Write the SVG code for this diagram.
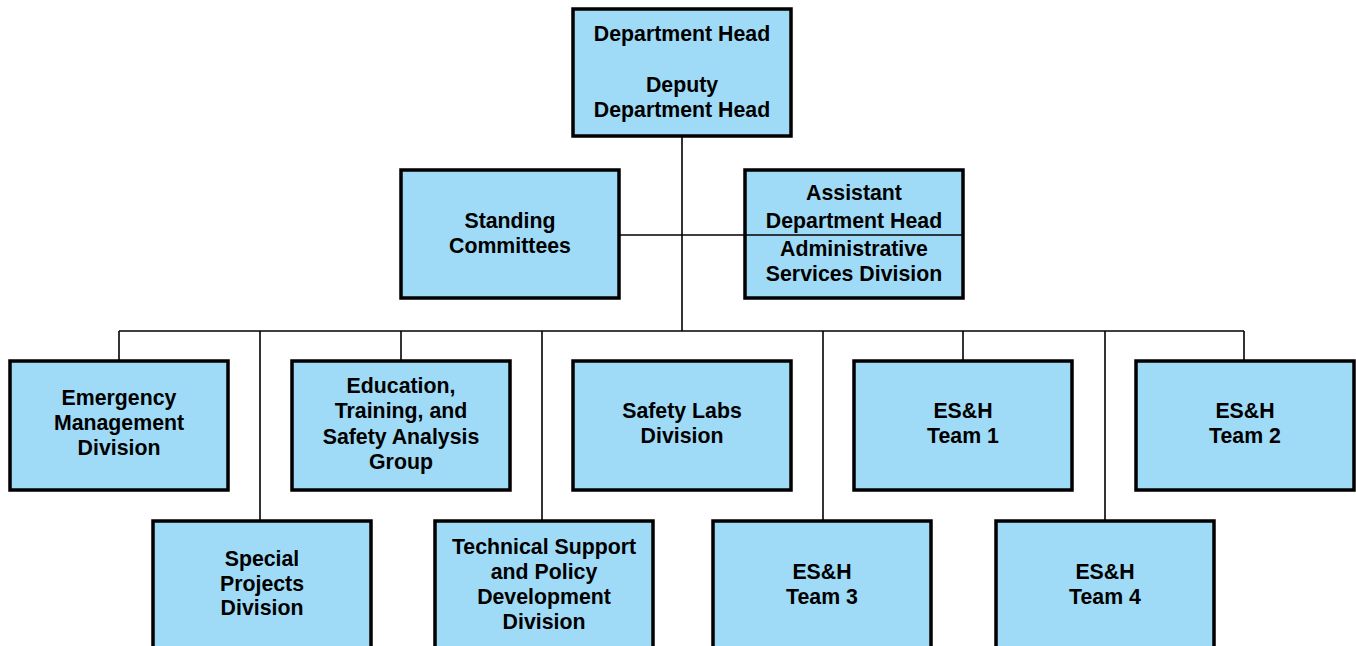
<svg xmlns="http://www.w3.org/2000/svg" width="1356" height="646" viewBox="0 0 1356 646">
<style>
.box{fill:#9fdbf6;stroke:#000;stroke-width:3.5}
.t{font-family:"Liberation Sans",Arial,Helvetica,sans-serif;font-weight:bold;font-size:21.3px;fill:#000;text-anchor:middle}
.c{stroke:#000;stroke-width:1.6;fill:none}
</style>
<rect width="1356" height="646" fill="#fff"/>
<g id="connectors">
<line class="c" x1="682" y1="136" x2="682" y2="331"/>
<line class="c" x1="619" y1="235" x2="745" y2="235"/>
<line class="c" x1="119" y1="331" x2="1244" y2="331"/>
<line class="c" x1="119" y1="331" x2="119" y2="361"/>
<line class="c" x1="401" y1="331" x2="401" y2="361"/>
<line class="c" x1="963" y1="331" x2="963" y2="361"/>
<line class="c" x1="1244" y1="331" x2="1244" y2="361"/>
<line class="c" x1="260" y1="331" x2="260" y2="521"/>
<line class="c" x1="542" y1="331" x2="542" y2="521"/>
<line class="c" x1="823" y1="331" x2="823" y2="521"/>
<line class="c" x1="1105" y1="331" x2="1105" y2="521"/>
</g>
<g id="head">
<rect class="box" x="573" y="9" width="218" height="127"/>
<text class="t" x="682" y="41">Department Head</text>
<text class="t" x="682" y="92">Deputy</text>
<text class="t" x="682" y="117">Department Head</text>
</g>
<g id="standing">
<rect class="box" x="401" y="170" width="218" height="128"/>
<text class="t" x="510" y="228">Standing</text>
<text class="t" x="510" y="253">Committees</text>
</g>
<g id="assistant">
<rect class="box" x="745" y="170" width="218" height="128"/>
<line class="c" x1="745" y1="235" x2="963" y2="235"/>
<text class="t" x="854" y="200">Assistant</text>
<text class="t" x="854" y="228">Department Head</text>
<text class="t" x="854" y="256">Administrative</text>
<text class="t" x="854" y="281">Services Division</text>
</g>
<g id="emergency">
<rect class="box" x="10" y="361" width="218" height="129"/>
<text class="t" x="119" y="405">Emergency</text>
<text class="t" x="119" y="430">Management</text>
<text class="t" x="119" y="455">Division</text>
</g>
<g id="education">
<rect class="box" x="292" y="361" width="218" height="129"/>
<text class="t" x="401" y="393">Education,</text>
<text class="t" x="401" y="418">Training, and</text>
<text class="t" x="401" y="444">Safety Analysis</text>
<text class="t" x="401" y="469">Group</text>
</g>
<g id="safetylabs">
<rect class="box" x="573" y="361" width="218" height="129"/>
<text class="t" x="682" y="418">Safety Labs</text>
<text class="t" x="682" y="443">Division</text>
</g>
<g id="team1">
<rect class="box" x="854" y="361" width="218" height="129"/>
<text class="t" x="963" y="418">ES&amp;H</text>
<text class="t" x="963" y="443">Team 1</text>
</g>
<g id="team2">
<rect class="box" x="1136" y="361" width="218" height="129"/>
<text class="t" x="1245" y="418">ES&amp;H</text>
<text class="t" x="1245" y="443">Team 2</text>
</g>
<g id="special">
<rect class="box" x="153" y="521" width="218" height="135"/>
<text class="t" x="262" y="566">Special</text>
<text class="t" x="262" y="591">Projects</text>
<text class="t" x="262" y="615">Division</text>
</g>
<g id="technical">
<rect class="box" x="435" y="521" width="218" height="135"/>
<text class="t" x="544" y="554">Technical Support</text>
<text class="t" x="544" y="579">and Policy</text>
<text class="t" x="544" y="604">Development</text>
<text class="t" x="544" y="629">Division</text>
</g>
<g id="team3">
<rect class="box" x="713" y="521" width="218" height="135"/>
<text class="t" x="822" y="579">ES&amp;H</text>
<text class="t" x="822" y="604">Team 3</text>
</g>
<g id="team4">
<rect class="box" x="996" y="521" width="218" height="135"/>
<text class="t" x="1105" y="579">ES&amp;H</text>
<text class="t" x="1105" y="604">Team 4</text>
</g>
</svg>
